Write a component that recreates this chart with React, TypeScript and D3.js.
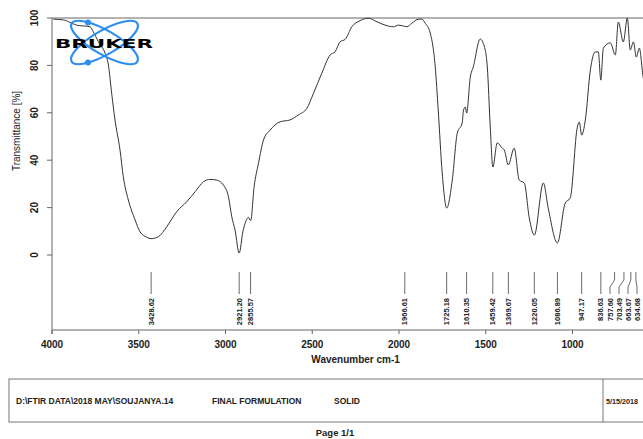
import React from "react";
import * as d3 from "d3";

const wavenumbers = [3992,3935,3886,3858,3781,3762,3733,3694,3675,3656,3637,3608,3589,3560,3521,3493,3454,3429,3387,3339,3281,3223,3175,3127,3089,3050,3012,2983,2964,2945,2921,2900,2881,2868,2855,2835,2810,2781,2743,2685,2628,2580,2531,2493,2445,2397,2368,2339,2310,2272,2224,2176,2127,2080,2032,2003,1974,1954,1926,1888,1868,1849,1820,1791,1774,1751,1725,1693,1664,1636,1628,1618,1610,1589,1572,1532,1503,1491,1474,1459,1434,1405,1393,1370,1336,1307,1278,1249,1220,1168,1140,1087,1042,1013,972,961,947,926,897,869,851,837,822,782,753,736,707,684,667,649,632,615,592,570];
const transmittance = [99.5,99.2,97.8,97.0,96.3,94.2,90.0,85.1,80.2,68.2,57.0,44.3,33.0,23.2,14.8,9.8,7.5,6.9,7.7,11.9,18.3,22.5,26.7,30.9,31.9,31.6,29.5,24.6,16.2,10.5,0.8,9.8,14.5,15.9,14.5,28.8,38.7,48.5,52.7,56.2,57.0,59.1,61.9,68.2,76.7,84.4,85.8,90.0,91.0,96.3,98.9,99.9,98.4,97.0,96.3,97.0,96.6,96.3,97.8,99.5,99.5,97.8,93.7,79.3,61.2,34.6,19.8,31.6,51.5,55.7,61.2,62.4,59.9,75.1,79.3,91.1,86.5,79.3,54.0,37.1,47.3,45.1,44.3,38.0,45.1,31.6,30.4,15.6,8.4,30.4,19.8,5.1,21.9,24.1,54.0,56.1,50.6,57.0,78.1,85.7,85.7,73.8,87.3,89.5,84.4,98.3,89.9,100,86.5,89.9,83.5,87.3,74.7,70];

const peakLabels = ["3428.62","2921.20","2855.57","1966.61","1725.18","1610.35","1459.42","1369.67","1220.05","1086.89","947.17","836.63","757.60","703.49","663.67","634.68"];
const xTicks = [4000,3500,3000,2500,2000,1500,1000];
const yTicks = [0,20,40,60,80,100];

export default function App() {
  const W = 643, H = 439;
  const x = d3.scaleLinear().domain([4000, 1000]).range([52, 572.5]);
  const y = d3.scaleLinear().domain([0, 100]).range([255, 18]);
  const axisY = 330;
  const pts = wavenumbers.map((w, i) => [w, transmittance[i]] as [number, number]);
  const line = d3.line<[number, number]>().x(d => x(d[0])).y(d => y(d[1])).curve(d3.curveMonotoneX);

  // peak label positions with minimum spacing, kept inside the page
  const peakX = peakLabels.map(p => x(parseFloat(p)));
  const labX = peakX.slice();
  const minGap = 9;
  const maxX = W - 6;
  for (let i = 1; i < labX.length; i++) {
    if (labX[i] - labX[i - 1] < minGap) labX[i] = labX[i - 1] + minGap;
  }
  labX[labX.length - 1] = Math.min(labX[labX.length - 1], maxX);
  for (let i = labX.length - 2; i >= 0; i--) {
    labX[i] = Math.min(labX[i], labX[i + 1] - minGap);
  }

  const font = "'Liberation Sans', Arial, sans-serif";
  const axisColor = "#666";
  const blue = "#2b8ef0";

  return (
    <svg width={W} height={H} style={{ position: "absolute", left: 0, top: 0, background: "#fff" }} fontFamily={font}>
      <defs>
        <clipPath id="plotclip"><rect x={52} y={10} width={W - 52} height={axisY - 10} /></clipPath>
      </defs>
      {/* frame */}
      <line x1={52} x2={W} y1={18} y2={18} stroke={axisColor} strokeWidth={1} />
      <line x1={52} x2={52} y1={18} y2={axisY + 4} stroke={axisColor} strokeWidth={1} />
      <line x1={52} x2={W} y1={axisY} y2={axisY} stroke={axisColor} strokeWidth={1} />
      {/* y ticks */}
      {yTicks.map(t => (
        <g key={t}>
          <line x1={47} x2={52} y1={y(t)} y2={y(t)} stroke={axisColor} />
          <text transform={`translate(${34},${y(t)}) rotate(-90)`} textAnchor="middle" dy="0.35em" fontSize={10} fontWeight="bold" fill="#222">{t}</text>
        </g>
      ))}
      <text transform={`translate(16,131) rotate(-90)`} textAnchor="middle" dy="0.35em" fontSize={10} fill="#222">Transmittance [%]</text>
      {/* x ticks */}
      {xTicks.map(t => (
        <g key={t}>
          <line x1={x(t)} x2={x(t)} y1={axisY} y2={axisY + 4} stroke={axisColor} />
          <text x={x(t)} y={348} textAnchor="middle" fontSize={10} fontWeight="bold" fill="#222">{t}</text>
        </g>
      ))}
      <text x={x(2250)} y={363} textAnchor="middle" fontSize={10} fontWeight="bold" fill="#222">Wavenumber cm-1</text>
      {/* spectrum */}
      <path d={line(pts) || ""} fill="none" stroke="#333" strokeWidth={1} clipPath="url(#plotclip)" />
      {/* peak labels */}
      {peakLabels.map((p, i) => {
        const px = peakX[i], lx = labX[i];
        const d = Math.abs(px - lx) < 0.5
          ? `M${px},272 L${px},294`
          : `M${px},272 L${px},280 L${lx},287 L${lx},294`;
        return (
          <g key={p}>
            <path d={d} fill="none" stroke="#444" strokeWidth={0.8} />
            <text transform={`translate(${lx},298) rotate(-90)`} textAnchor="end" dy="0.35em" fontSize={7.5} fontWeight="bold" fill="#222">{p}</text>
          </g>
        );
      })}
      {/* Bruker logo */}
      <g>
        <ellipse cx={104.5} cy={42.5} rx={38} ry={12} fill="none" stroke={blue} strokeWidth={2.2} transform="rotate(30,104.5,42.5)" />
        <ellipse cx={104.5} cy={42.5} rx={38} ry={12} fill="none" stroke={blue} strokeWidth={2.2} transform="rotate(-30,104.5,42.5)" />
        <circle cx={88} cy={22.5} r={3} fill={blue} />
        <circle cx={88} cy={62.5} r={3} fill={blue} />
        <text x={55} y={47.5} fontSize={13} fontWeight={900} fill="#000" textLength={98} lengthAdjust="spacingAndGlyphs" fontFamily="'DejaVu Sans', sans-serif">BRUKER</text>
      </g>
      {/* info box */}
      <rect x={9} y={379} width={W + 10} height={43} fill="none" stroke="#777" strokeWidth={1} />
      <line x1={603} x2={603} y1={379} y2={422} stroke="#777" />
      <text x={16} y={404} fontSize={8.5} fontWeight="bold" fill="#222">D:\FTIR DATA\2018 MAY\SOUJANYA.14</text>
      <text x={212} y={404} fontSize={8.5} fontWeight="bold" fill="#222">FINAL FORMULATION</text>
      <text x={334} y={404} fontSize={8.5} fontWeight="bold" fill="#222">SOLID</text>
      <text x={606} y={404} fontSize={8} fontWeight="bold" fill="#222" textLength={32} lengthAdjust="spacingAndGlyphs">5/15/2018</text>
      <text x={335} y={436} textAnchor="middle" fontSize={9.5} fontWeight="bold" fill="#222">Page 1/1</text>
    </svg>
  );
}
